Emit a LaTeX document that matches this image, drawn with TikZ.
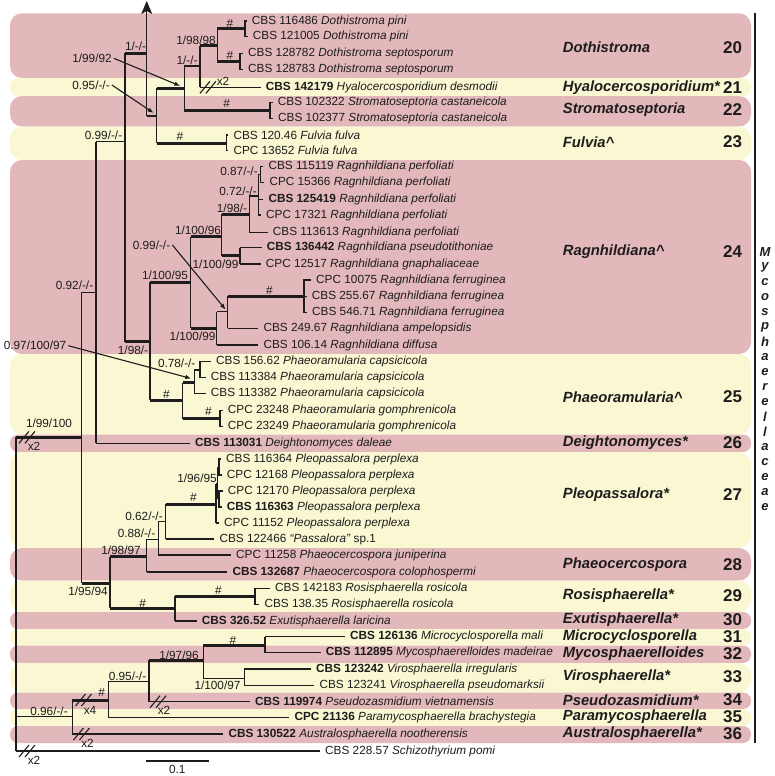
\documentclass[tikz,border=0pt]{standalone}
\usepackage{fontspec}
\setmainfont{Liberation Sans}
\usetikzlibrary{arrows.meta}
\definecolor{bandpink}{RGB}{226,184,187}
\definecolor{bandyell}{RGB}{250,247,211}
\definecolor{ink}{RGB}{30,28,28}
\tikzset{
  br/.style={draw=ink, line width=1.2pt},
  bb/.style={draw=ink, line width=3pt},
  brk/.style={draw=ink, line width=1.1pt},
  pnt/.style={draw=ink, line width=1.1pt, -{Latex[length=6pt,width=4.5pt]}},
  tax/.style={anchor=west, inner xsep=5pt, inner ysep=0pt, text=ink, font=\fontsize{11.8}{13}\selectfont},
  supp/.style={inner sep=0pt, text=ink, font=\fontsize{11.8}{13}\selectfont},
  gen/.style={anchor=west, inner sep=0pt, text=ink, font=\fontsize{14.8}{16}\selectfont\bfseries\itshape},
  num/.style={anchor=east, inner sep=0pt, text=ink, font=\fontsize{17}{18}\selectfont\bfseries},
  fam/.style={inner sep=0pt, text=ink, font=\fontsize{13}{14}\selectfont\bfseries\itshape},
}
\begin{document}
\begin{tikzpicture}[x=1pt,y=-1pt]
  \useasboundingbox (0,0) rectangle (774,776);
  % clade bands
  \foreach \ya/\yb/\c/\r in {13.3/78/bandpink/12pt, 78/96/bandyell/8pt, 96/126.5/bandpink/12pt,
      126.5/160/bandyell/12pt, 160/354/bandpink/12pt, 354/434.5/bandyell/12pt, 434.5/452/bandpink/8pt,
      452/548/bandyell/12pt, 548/580.5/bandpink/12pt, 580.5/612/bandyell/12pt, 612/629/bandpink/8pt,
      629/645.5/bandyell/8pt, 645.5/663/bandpink/8pt, 663/692.5/bandyell/12pt, 692.5/709/bandpink/8pt,
      709/726/bandyell/8pt, 726/743/bandpink/8pt}
    \fill[\c, rounded corners=\r] (10,\ya) rectangle (751,\yb);

  % genera and clade numbers
  \foreach \g/\y/\n in {Dothistroma/47.7/20, Hyalocercosporidium*/87.3/21, Stromatoseptoria/110/22,
      Fulvia\textasciicircum/142/23, Ragnhildiana\textasciicircum/252/24, Phaeoramularia\textasciicircum/397/25,
      Deightonomyces*/443/26, Pleopassalora*/495/27, Phaeocercospora/565/28, Rosisphaerella*/596/29,
      Exutisphaerella*/620/30, Microcyclosporella/636.7/31, Mycosphaerelloides/654/32,
      Virosphaerella*/676.7/33, Pseudozasmidium*/700/34, Paramycosphaerella/716.7/35,
      Australosphaerella*/734/36}
  {
    \node[gen] (g\n) at (562.7,\y) {\g};
    \node[num] (c\n) at (742.3,\y) {\n};
  }

  % family
  \draw[draw=ink, line width=2.4pt] (755,13) -- (755,743);
  \foreach \l [count=\i] in {M,y,c,o,s,p,h,a,e,r,e,l,l,a,c,e,a,e}
    \node[fam] (f\i) at (765,237+\i*15) {\l};

  % strains
  \node[tax] (pini1) at (246.7,21) {CBS 116486 \textit{Dothistroma pini}};
  \node[tax] (pini2) at (247.7,36.7) {CBS 121005 \textit{Dothistroma pini}};
  \node[tax] (sept1) at (243,53.3) {CBS 128782 \textit{Dothistroma septosporum}};
  \node[tax] (sept2) at (243,69.3) {CBS 128783 \textit{Dothistroma septosporum}};
  \node[tax] (desm) at (260.7,87.3) {\textbf{CBS 142179} \textit{Hyalocercosporidium desmodii}};
  \node[tax] (cast1) at (272.7,102.3) {CBS 102322 \textit{Stromatoseptoria castaneicola}};
  \node[tax] (cast2) at (273,118.3) {CBS 102377 \textit{Stromatoseptoria castaneicola}};
  \node[tax] (fulv1) at (228.3,135) {CBS 120.46 \textit{Fulvia fulva}};
  \node[tax] (fulv2) at (228.3,150.7) {CPC 13652 \textit{Fulvia fulva}};
  \node[tax] (perf1) at (263.3,166.7) {CBS 115119 \textit{Ragnhildiana perfoliati}};
  \node[tax] (perf2) at (264.3,182.7) {CPC 15366 \textit{Ragnhildiana perfoliati}};
  \node[tax] (perf3) at (263.3,199.3) {\textbf{CBS 125419} \textit{Ragnhildiana perfoliati}};
  \node[tax] (perf4) at (261,215) {CPC 17321 \textit{Ragnhildiana perfoliati}};
  \node[tax] (perf5) at (267.7,232.3) {CBS 113613 \textit{Ragnhildiana perfoliati}};
  \node[tax] (pseu) at (261.7,247.7) {\textbf{CBS 136442} \textit{Ragnhildiana pseudotithoniae}};
  \node[tax] (gnap) at (260.7,264) {CPC 12517 \textit{Ragnhildiana gnaphaliaceae}};
  \node[tax] (ferr1) at (311,280) {CPC 10075 \textit{Ragnhildiana ferruginea}};
  \node[tax] (ferr2) at (306.7,296.7) {CBS 255.67 \textit{Ragnhildiana ferruginea}};
  \node[tax] (ferr3) at (307,312.7) {CBS 546.71 \textit{Ragnhildiana ferruginea}};
  \node[tax] (ampe) at (258.3,328.3) {CBS 249.67 \textit{Ragnhildiana ampelopsidis}};
  \node[tax] (diff) at (258.3,345) {CBS 106.14 \textit{Ragnhildiana diffusa}};
  \node[tax] (caps1) at (211,361.7) {CBS 156.62 \textit{Phaeoramularia capsicicola}};
  \node[tax] (caps2) at (205.7,377.7) {CBS 113384 \textit{Phaeoramularia capsicicola}};
  \node[tax] (caps3) at (205.7,393.3) {CBS 113382 \textit{Phaeoramularia capsicicola}};
  \node[tax] (gomp1) at (222.7,410.7) {CPC 23248 \textit{Phaeoramularia gomphrenicola}};
  \node[tax] (gomp2) at (222.7,426.7) {CPC 23249 \textit{Phaeoramularia gomphrenicola}};
  \node[tax] (dale) at (190,443.3) {\textbf{CBS 113031} \textit{Deightonomyces daleae}};
  \node[tax] (perp1) at (221,459) {CBS 116364 \textit{Pleopassalora perplexa}};
  \node[tax] (perp2) at (221.7,475) {CPC 12168 \textit{Pleopassalora perplexa}};
  \node[tax] (perp3) at (222.7,491) {CPC 12170 \textit{Pleopassalora perplexa}};
  \node[tax] (perp4) at (221.7,507) {\textbf{CBS 116363} \textit{Pleopassalora perplexa}};
  \node[tax] (perp5) at (219,523) {CPC 11152 \textit{Pleopassalora perplexa}};
  \node[tax] (pass) at (214.3,539) {CBS 122466 \textit{“Passalora”} sp.1};
  \node[tax] (juni) at (231,555) {CPC 11258 \textit{Phaeocercospora juniperina}};
  \node[tax] (colo) at (227.3,572) {\textbf{CBS 132687} \textit{Phaeocercospora colophospermi}};
  \node[tax] (rosi1) at (270,588.3) {CBS 142183 \textit{Rosisphaerella rosicola}};
  \node[tax] (rosi2) at (259.3,604.3) {CBS 138.35 \textit{Rosisphaerella rosicola}};
  \node[tax] (lari) at (196.7,621) {\textbf{CBS 326.52} \textit{Exutisphaerella laricina}};
  \node[tax] (mali) at (345,636.7) {\textbf{CBS 126136} \textit{Microcyclosporella mali}};
  \node[tax] (made) at (320.7,652.7) {\textbf{CBS 112895} \textit{Mycosphaerelloides madeirae}};
  \node[tax] (irre) at (311,669) {\textbf{CBS 123242} \textit{Virosphaerella irregularis}};
  \node[tax] (psma) at (314.3,685.7) {CBS 123241 \textit{Virosphaerella pseudomarksii}};
  \node[tax] (viet) at (250,701.7) {\textbf{CBS 119974} \textit{Pseudozasmidium vietnamensis}};
  \node[tax] (brac) at (289.3,717.7) {\textbf{CPC 21136} \textit{Paramycosphaerella brachystegia}};
  \node[tax] (noot) at (223.3,734) {\textbf{CBS 130522} \textit{Australosphaerella nootherensis}};
  \node[tax] (pomi) at (320,751) {CBS 228.57 \textit{Schizothyrium pomi}};

  % internal nodes
  \coordinate (nD1) at (245,29);
  \coordinate (nD2) at (240,61.3);
  \coordinate (nDoth) at (217.3,46);
  \coordinate (nDH) at (200,66);
  \coordinate (nStro) at (270,110.3);
  \coordinate (nDHS) at (184.3,88);
  \coordinate (nFul) at (226.7,143);
  \coordinate (n095) at (156.7,116);
  \coordinate (nArr) at (146.7,53.3);
  \coordinate (aTop) at (146.7,1);
  \coordinate (n099) at (125,141.7);
  \coordinate (n087) at (260.7,174.7);
  \coordinate (n072) at (258.3,196);
  \coordinate (n198b) at (249.3,214.3);
  \coordinate (n10099a) at (240,255.9);
  \coordinate (n10096) at (221.7,236.7);
  \coordinate (nFer) at (304,296.4);
  \coordinate (n099r) at (227.7,311.7);
  \coordinate (n10099b) at (216.7,328.3);
  \coordinate (n10095) at (190.7,282.3);
  \coordinate (n078) at (200,370);
  \coordinate (n097) at (194.3,382.5);
  \coordinate (nGom) at (220,418.7);
  \coordinate (nPhr) at (182.7,400);
  \coordinate (n198) at (150,341.7);
  \coordinate (n092) at (96,292.3);
  \coordinate (nMyc) at (81.7,437.3);
  \coordinate (nRoot) at (16,437.3);
  \coordinate (nPleA) at (219,467);
  \coordinate (nPleB) at (219,499);
  \coordinate (n19695) at (217.5,484);
  \coordinate (nPle) at (216,504);
  \coordinate (n062) at (165.7,521.7);
  \coordinate (n088) at (158.3,539.3);
  \coordinate (n19897) at (146.7,556.7);
  \coordinate (nRosB) at (255,596.3);
  \coordinate (nRos) at (175,608);
  \coordinate (n19594) at (110,583.3);
  \coordinate (nMM) at (265,645);
  \coordinate (n100097) at (244.3,678.3);
  \coordinate (n19796) at (203.3,660);
  \coordinate (n095b) at (149,681.7);
  \coordinate (nH) at (108.3,700);
  \coordinate (n096) at (72.3,716.7);

  % verticals
  \foreach \p/\a/\b in {nDoth/nD1/nD2, nDH/nDoth/desm.west, nDHS/nDH/nStro, n095/nDHS/nFul,
      n099/nArr/n198, n072/n087/perf4.west, n198b/n072/perf5.west, n10099a/pseu.west/gnap.west,
      n10096/n198b/n10099a, n099r/nFer/ampe.west, n10099b/n099r/diff.west, n10095/n10096/n10099b,
      n097/n078/caps3.west, nPhr/n097/nGom, n198/n10095/nPhr, n092/n099/dale.west,
      nMyc/n092/n19594, n19695/nPleA/nPleB, nPle/n19695/perp5.west, n062/nPle/pass.west,
      n088/n062/juni.west, n19897/n088/colo.west, nRos/nRosB/lari.west, n19594/n19897/nRos,
      nMM/mali.west/made.west, n100097/irre.west/psma.west, n19796/nMM/n100097,
      n095b/n19796/viet.west, nH/n095b/brac.west, n096/nH/noot.west, nRoot/nMyc/pomi.west}
    \draw[br] (\p |- \a) -- (\p |- \b);

  % plain branches
  \foreach \p/\c in {nArr/n095, nDHS/nDH, nDH/desm.west, n198b/n072, n198b/perf5.west,
      n072/n087, n072/perf3.west, n072/perf4.west, n10099a/pseu.west, n10099a/gnap.west,
      n10099b/n099r, n10099b/diff.west, n099r/ampe.west, n097/n078, n097/caps3.west,
      n092/n099, n092/dale.west, nMyc/n092, n19897/n088, n19897/colo.west, n088/n062,
      n088/juni.west, n062/pass.west, nPle/n19695, nPle/perp5.west, n19695/nPleA,
      n19695/nPleB, nRos/lari.west, nRoot/n096, nRoot/pomi.west, n096/noot.west,
      nH/n095b, nH/brac.west, n095b/viet.west, n19796/n100097, nMM/mali.west,
      nMM/made.west, n100097/irre.west, n100097/psma.west}
    \draw[br] (\p |- \c) -- (\c);

  % supported branches
  \foreach \p/\c in {n099/nArr, n095/nDHS, n095/nFul, nDHS/nStro, nDH/nDoth, nDoth/nD1,
      nDoth/nD2, n099/n198, n198/n10095, n198/nPhr, n10095/n10096, n10095/n10099b,
      n10096/n198b, n10096/n10099a, n099r/nFer, nPhr/n097, nPhr/nGom, nRoot/nMyc,
      nMyc/n19594, n19594/n19897, n19594/nRos, n062/nPle, nRos/nRosB, n096/nH,
      n095b/n19796, n19796/nMM}
    \draw[bb] (\p |- \c) -- (\c);

  % strain brackets
  \foreach \a/\n/\b in {pini1/nD1/pini2, sept1/nD2/sept2, cast1/nStro/cast2, fulv1/nFul/fulv2,
      perf1/n087/perf2, ferr1/nFer/ferr3, caps1/n078/caps2, gomp1/nGom/gomp2,
      perp1/nPleA/perp2, perp3/nPleB/perp4, rosi1/nRosB/rosi2}
    \draw[br] (\a.west) -| (\n) |- (\b.west);
  \draw[br] (nFer) -- (ferr2.west);

  % arrow to the rest of the tree
  \draw[br, -{Stealth[length=13pt,width=11pt,inset=3pt]}] (nArr |- n095) -- (aTop);

  % broken branches
  \foreach \bx/\by in {28/437.3, 209/87.3, 84.5/700, 82.5/734, 159/701.7, 28/751}
    \draw[brk] (\bx-9,\by+6) -- (\bx+1,\by-6) (\bx-3,\by+6) -- (\bx+7,\by-6);

  % support values
  \node[supp] (sArr) at (135.5,46.5) {1/-/-};
  \node[supp] (sDHS) at (92,58.3) {1/99/92};
  \node[supp] (s095) at (91,85) {0.95/-/-};
  \node[supp] (sDoth) at (196,40) {1/98/98};
  \node[supp] (sDH) at (187,60) {1/-/-};
  \node[supp] (s099) at (103.5,135.7) {0.99/-/-};
  \node[supp] (s087) at (239,171.7) {0.87/-/-};
  \node[supp] (s072) at (238,191.7) {0.72/-/-};
  \node[supp] (s198b) at (232,208.3) {1/98/-};
  \node[supp] (s10096) at (198,230) {1/100/96};
  \node[supp] (s099r) at (151.5,245) {0.99/-/-};
  \node[supp] (s10099a) at (215.5,264) {1/100/99};
  \node[supp] (s10095) at (165,275) {1/100/95};
  \node[supp] (s10099b) at (192.5,336.7) {1/100/99};
  \node[supp] (s092) at (74.5,285.7) {0.92/-/-};
  \node[supp] (s198) at (133,350) {1/98/-};
  \node[supp] (s097) at (35,345.7) {0.97/100/97};
  \node[supp] (s078) at (176.7,363.3) {0.78/-/-};
  \node[supp] (sMyc) at (49,423.3) {1/99/100};
  \node[supp] (s19695) at (197,478.3) {1/96/95};
  \node[supp] (s062) at (144,516) {0.62/-/-};
  \node[supp] (s088) at (136.5,533.3) {0.88/-/-};
  \node[supp] (s19897) at (121,550) {1/98/97};
  \node[supp] (s19594) at (88,591.7) {1/95/94};
  \node[supp] (s19796) at (179,655) {1/97/96};
  \node[supp] (s100097) at (217.5,685.7) {1/100/97};
  \node[supp] (s095b) at (127.5,676.7) {0.95/-/-};
  \node[supp] (s096) at (49,711.7) {0.96/-/-};
  \foreach \hx/\hy [count=\i] in {230/23.3, 230/55, 226.7/103.3, 180/136.7, 269.3/290.7,
      166.5/394.5, 208.3/411.7, 193.3/497.3, 142.7/603.3, 218.3/590, 233/640, 101.7/692.7}
    \node[supp] (h\i) at (\hx,\hy) {\#};
  \node[supp] (xDesm) at (223,81.5) {x2};
  \node[supp] (xMyc) at (34,446.7) {x2};
  \node[supp] (xH) at (90,710) {x4};
  \node[supp] (xViet) at (164,710) {x2};
  \node[supp] (xNoot) at (87.5,743.3) {x2};
  \node[supp] (xPomi) at (34,760) {x2};

  % pointers
  \draw[pnt] ([xshift=2pt]sDHS.east) -- ([shift={(-4,-2)}]nDHS);
  \draw[pnt] ([xshift=2pt]s095.east) -- ([shift={(-3,-3)}]n095);
  \draw[pnt] ([xshift=2pt]s099r.east) -- ([shift={(-2,-2)}]n099r);
  \draw[pnt] ([xshift=2pt]s097.east) -- ([shift={(-3,-4)}]n097);

  % scale bar
  \coordinate (sb1) at (145.7,761);
  \coordinate (sb2) at (209,761);
  \draw[br] (sb1) -- (sb2);
  \node[supp] (sbl) at (177.3,769.5) {0.1};
\end{tikzpicture}
\end{document}
